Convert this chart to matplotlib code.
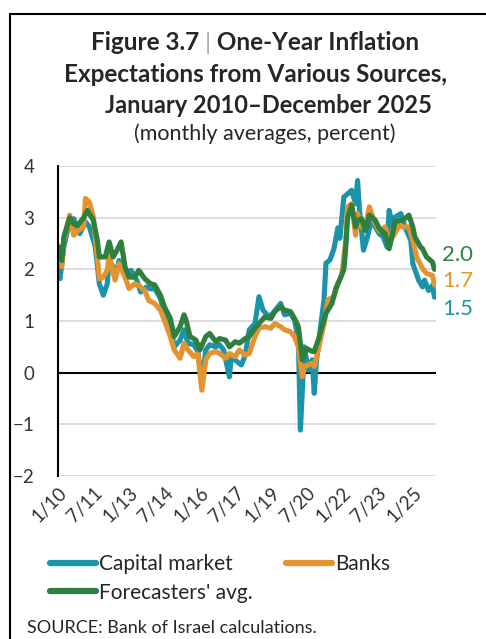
import pandas as pd
import matplotlib
matplotlib.use("Agg")
import matplotlib.pyplot as plt
from matplotlib.lines import Line2D
from matplotlib.patches import Rectangle

plt.rcParams['font.family'] = ['Lato', 'DejaVu Sans']

# months since January 2010 and values (percent)
cap_m = [0, 1, 3, 6, 8, 11, 14, 16, 19, 21, 23, 25, 26, 28, 30, 31, 34, 37, 40, 42,
         45, 47, 49, 52, 54, 57, 59, 62, 64, 66, 69, 71, 73, 75, 77, 80, 82, 84, 87, 88,
         91, 93, 95, 97, 100, 102, 104, 107, 109, 113, 115, 118, 120, 122, 123, 124, 125, 127, 129, 130,
         131, 133, 135, 136, 138, 140, 142, 143, 145, 147, 149, 151, 152, 153, 155, 157, 159, 161, 163, 165,
         167, 168, 170, 171, 174, 176, 179, 180, 183, 185, 186, 188, 190, 191]
cap_v = [1.90, 1.82, 2.43, 2.95, 2.98, 2.69, 2.92, 2.82, 2.43, 1.72, 1.50, 1.72, 2.17, 2.05, 1.98, 2.17, 1.92, 1.98, 1.79, 1.56,
         1.66, 1.62, 1.63, 1.44, 1.15, 0.89, 0.50, 0.63, 0.83, 0.57, 0.54, 0.41, -0.21, 0.44, 0.54, 0.50, 0.54, 0.44, -0.08, 0.31,
         0.21, 0.15, 0.33, 0.83, 0.95, 1.47, 1.21, 1.08, 1.15, 1.34, 1.12, 1.15, 1.02, 0.63, -1.11, -0.34, 0.50, 0.05, 0.25, -0.40,
         0.18, 0.83, 1.41, 2.12, 2.18, 2.40, 2.80, 2.60, 3.40, 3.46, 3.53, 3.27, 3.72, 3.14, 2.37, 2.63, 2.95, 2.82, 2.69, 2.63,
         2.43, 3.14, 2.82, 3.01, 3.08, 2.82, 2.56, 2.11, 1.79, 1.66, 1.79, 1.59, 1.69, 1.46]

banks_m = [0, 2, 3, 6, 8, 10, 13, 14, 16, 18, 20, 21, 23, 25, 26, 29, 31, 34, 36, 39,
           41, 44, 46, 47, 49, 52, 54, 57, 59, 62, 64, 66, 69, 71, 73, 75, 77, 80, 82, 85,
           87, 90, 92, 95, 97, 100, 102, 105, 108, 110, 113, 115, 118, 120, 122, 124, 125, 127, 129, 130,
           132, 135, 137, 140, 142, 144, 146, 147, 149, 151, 152, 154, 156, 158, 161, 163, 166, 168, 170, 173,
           175, 178, 180, 182, 185, 187, 190, 191]
banks_v = [2.20, 2.05, 2.56, 3.05, 2.66, 2.75, 2.82, 3.37, 3.30, 3.01, 2.24, 1.82, 1.85, 1.98, 2.30, 1.79, 2.11, 1.85, 1.63, 1.72,
           1.69, 1.59, 1.40, 1.38, 1.34, 1.21, 1.02, 0.70, 0.44, 0.28, 0.57, 0.44, 0.31, 0.37, -0.34, 0.25, 0.37, 0.41, 0.37, 0.28,
           0.37, 0.31, 0.44, 0.34, 0.37, 0.70, 0.86, 0.89, 0.86, 0.95, 0.89, 0.83, 0.79, 0.70, 0.50, -0.08, 0.12, 0.15, 0.18, 0.12,
           0.44, 0.95, 1.41, 1.47, 1.73, 1.90, 2.55, 3.21, 3.27, 2.66, 3.08, 2.82, 2.82, 3.21, 2.88, 2.75, 2.82, 2.56, 2.63, 2.85,
           2.82, 2.82, 2.56, 2.24, 2.01, 1.92, 1.88, 1.70]

fore_m = [0, 2, 3, 6, 8, 10, 13, 15, 18, 20, 21, 24, 26, 28, 30, 32, 34, 36, 39, 41,
          44, 47, 49, 52, 54, 57, 59, 62, 64, 65, 67, 70, 72, 75, 77, 80, 82, 85, 87, 90,
          92, 95, 97, 100, 102, 105, 108, 110, 113, 115, 118, 120, 122, 124, 126, 129, 130, 132, 134, 136,
          139, 141, 143, 144, 145, 146, 147, 149, 151, 152, 154, 156, 158, 161, 163, 166, 168, 169, 171, 174,
          176, 178, 180, 181, 184, 185, 187, 190, 191]
fore_v = [2.45, 2.17, 2.63, 3.00, 2.88, 2.85, 3.00, 3.14, 2.95, 2.56, 2.24, 2.24, 2.53, 2.24, 2.37, 2.53, 2.05, 1.85, 1.85, 1.98,
          1.82, 1.72, 1.70, 1.50, 1.28, 1.05, 0.70, 0.89, 1.12, 1.02, 0.70, 0.63, 0.44, 0.70, 0.76, 0.60, 0.66, 0.63, 0.50, 0.60,
          0.57, 0.66, 0.70, 0.86, 0.95, 1.08, 1.05, 1.18, 1.28, 1.21, 1.18, 1.05, 0.89, 0.25, 0.47, 0.41, 0.41, 0.63, 0.89, 1.15,
          1.34, 1.63, 1.80, 1.90, 2.00, 2.40, 3.01, 3.24, 2.82, 2.95, 2.98, 2.75, 3.05, 2.95, 2.79, 2.69, 2.40, 2.56, 2.92, 2.95,
          2.98, 3.05, 2.82, 2.63, 2.43, 2.40, 2.24, 2.14, 2.00]

labels = ['Capital market', 'Banks', "Forecasters' avg."]
colors = ['#1B93A8', '#E3942F', '#2F7F3E']
end_labels = ['1.5', '1.7', '2.0']
tick_labels = ['1/10', '7/11', '1/13', '7/14', '1/16', '7/17', '1/19', '7/20', '1/22', '7/23', '1/25']

start = pd.Timestamp('2010-01-01')


def to_dates(months):
    return [start + pd.DateOffset(months=m) for m in months]


W, H = 486, 639
fig = plt.figure(figsize=(W / 100, H / 100), dpi=100)
ax = fig.add_axes([58 / W, 1 - 476 / H, (436 - 58) / W, (476 - 166) / H])

series = [(cap_m, cap_v), (banks_m, banks_v), (fore_m, fore_v)]
for (m, v), c, lab in zip(series, colors, labels):
    ax.plot(to_dates(m), v, color=c, lw=3.7, solid_capstyle='round', solid_joinstyle='round', label=lab)

ax.set_ylim(-2, 4)
ax.set_yticks(range(-2, 5))
ax.set_xlim(start, pd.Timestamp('2025-12-25'))
ax.set_xticks(to_dates(range(0, 181, 18)))
ax.set_xticklabels(tick_labels, rotation=45, ha='right', rotation_mode='anchor')

for y in [-2, -1, 1, 2, 3, 4]:
    ax.axhline(y, color='#D9D9D9', lw=1.3, zorder=0)
ax.axhline(0, color='black', lw=1.5, zorder=1)

for s in ['top', 'right', 'bottom']:
    ax.spines[s].set_visible(False)
ax.spines['left'].set_linewidth(1.5)
ax.tick_params(axis='both', length=0, labelsize=13.5, colors='#333333')
ax.tick_params(axis='y', pad=17)
ax.tick_params(axis='x', pad=6)

# end-of-series value labels (positions nudged apart like the original)
label_y = {'2.0': 255, '1.7': 281, '1.5': 309}
for c, t in zip(colors, end_labels):
    ax.text(442 / W, 1 - label_y[t] / H, t, color=c, fontsize=16, transform=fig.transFigure, va='center')

# title, with the grey separator bar
fig.canvas.draw()
r = fig.canvas.get_renderer()
tsize = 17.5
parts = [('Figure 3.7 ', 'bold', '#262626'), ('|', 'normal', '#A6A6A6'), (' One-Year Inflation', 'bold', '#262626')]
texts = [fig.text(0, 1 - 50 / H, p, fontsize=tsize, fontweight=w, color=c, va='baseline') for p, w, c in parts]
widths = [t.get_window_extent(r).width for t in texts]
x = 255 - sum(widths) / 2
for t, w in zip(texts, widths):
    t.set_x(x / W)
    x += w
fig.text(255 / W, 1 - 82 / H, 'Expectations from Various Sources,', fontsize=tsize, fontweight='bold',
         color='#262626', ha='center', va='baseline')
fig.text(268 / W, 1 - 113 / H, 'January 2010\u2013December 2025', fontsize=tsize - 0.5, fontweight='bold',
         color='#262626', ha='center', va='baseline')
fig.text(265 / W, 1 - 140 / H, '(monthly averages, percent)', fontsize=15.5,
         color='#262626', ha='center', va='baseline')

leg_handles = [Line2D([], [], color=colors[0], lw=4.5, solid_capstyle='round'),
               Line2D([], [], color=colors[2], lw=4.5, solid_capstyle='round'),
               Line2D([], [], color=colors[1], lw=4.5, solid_capstyle='round')]
fig.legend(leg_handles, [labels[0], labels[2], labels[1]], ncol=2, loc='upper left',
           bbox_to_anchor=(50 / W, 1 - 554 / H), frameon=False, fontsize=15,
           handlelength=2.2, handletextpad=0.15, columnspacing=1.6, labelspacing=0.42,
           labelcolor='#262626', borderpad=0, borderaxespad=0)

fig.text(27 / W, 1 - 633 / H, 'SOURCE: Bank of Israel calculations.', fontsize=13, color='#262626', va='baseline')

fig.add_artist(Rectangle((10 / W, -0.05), 1.2, 1 - 14 / H + 0.05, transform=fig.transFigure,
                         fill=False, lw=1.5, edgecolor='black'))

fig.savefig('out.png', dpi=100)
